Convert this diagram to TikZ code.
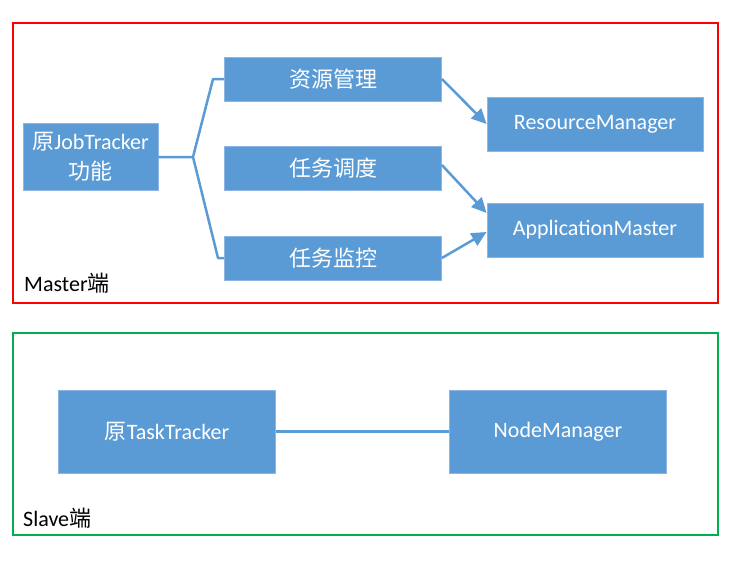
\documentclass[tikz,border=0pt]{standalone}
\usepackage{fontspec}
\setmainfont{Carlito}
\newfontfamily\cjk{Noto Sans CJK SC}
\usetikzlibrary{arrows.meta}

\definecolor{boxblue}{HTML}{5B9BD5}
\definecolor{boxedge}{HTML}{8DB6E2}
\definecolor{slavegreen}{HTML}{00B050}

\tikzset{
  role/.style={draw=boxedge, line width=0.8pt, fill=boxblue, text=white,
    inner sep=0pt, align=center, font=\fontsize{22}{30}\selectfont},
  link/.style={boxblue, line width=2.5pt, line join=round},
  flow/.style={link, -{Triangle[length=15pt,width=14pt]}},
  frame/.style={line width=2.5pt},
  side/.style={anchor=west, inner sep=0pt, font=\fontsize{22}{26}\selectfont}
}

\begin{document}
\begin{tikzpicture}[x=1pt,y=-1pt]

\useasboundingbox (0,0) rectangle (731,560);

% Master side
\draw[frame, red] (13,23) rectangle (718,303);
\node[side] (mastertag) at (24,283) {Master{\cjk 端}};

\node[role, minimum width=135pt, minimum height=67pt] (job) at (90.5,157) {{\cjk 原}JobTracker\\{\cjk 功能}};

\node[role, minimum width=217pt, minimum height=44pt] (res) at (333,79) {\cjk 资源管理};
\node[role, minimum width=217pt, minimum height=44pt] (sched) at (333,168) {\cjk 任务调度};
\node[role, minimum width=217pt, minimum height=44pt] (mon) at (333,258) {\cjk 任务监控};

\node[role, minimum width=216pt, minimum height=54pt] (rm) at (595,124) {ResourceManager};
\node[role, minimum width=216pt, minimum height=54pt] (am) at (595,230) {ApplicationMaster};

\coordinate (fork) at (193,157);
\coordinate (forkup) at (213,79);
\coordinate (forkdn) at (218,258);

\draw[link] (job.east) -- (fork) -- (forkup) -- (res.west);
\draw[link] (fork) -- (forkdn) -- (mon.west);

\draw[flow] (res.east) -- (rm.west);
\draw[flow] ([yshift=3pt]sched.east) -- ([yshift=17pt]am.west);
\draw[flow] (mon.east) -- ([yshift=-2pt]am.west);

% Slave side
\draw[frame, slavegreen] (13,333) rectangle (718,535);
\node[side] (slavetag) at (23,518) {Slave{\cjk 端}};

\node[role, minimum width=217pt, minimum height=83pt] (tt) at (167,431.5) {{\cjk 原}TaskTracker};
\node[role, minimum width=217pt, minimum height=83pt] (nm) at (558,431.5) {NodeManager};

\draw[link] (tt.east) -- (nm.west);

\end{tikzpicture}
\end{document}
